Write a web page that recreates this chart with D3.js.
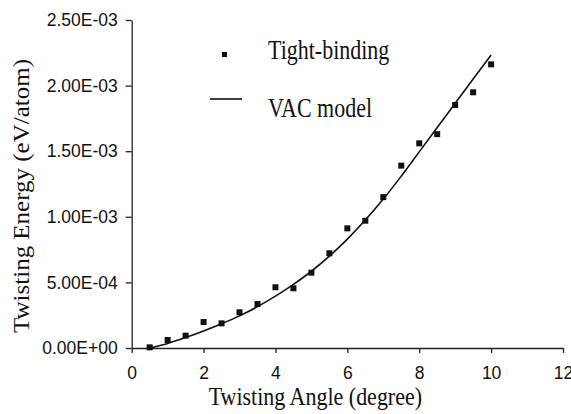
<!DOCTYPE html>
<html>
<head>
<meta charset="utf-8">
<script src="https://cdn.jsdelivr.net/npm/d3@7"></script>
<style>
  body { margin: 0; background: #fff; }
  svg { display: block; }
</style>
</head>
<body>
<div id="chart"></div>
<script>
// twisting angle (degree)
const angles = [0.5, 1, 1.5, 2, 2.5, 3, 3.5, 4, 4.5, 5, 5.5, 6, 6.5, 7, 7.5, 8, 8.5, 9, 9.5, 10];
// tight-binding energies (eV/atom)
const tightBinding = [5e-6, 6.1e-5, 9.4e-5, 1.98e-4, 1.88e-4, 2.72e-4, 3.35e-4, 4.63e-4, 4.55e-4, 5.74e-4,
    7.22e-4, 9.12e-4, 9.7e-4, 1.15e-3, 1.39e-3, 1.56e-3, 1.63e-3, 1.852e-3, 1.949e-3, 2.162e-3];
// VAC model curve
const vacModel = [0, 3.5e-5, 8e-5, 1.3e-4, 1.85e-4, 2.45e-4, 3.15e-4, 3.95e-4, 4.85e-4, 5.85e-4,
    7e-4, 8.3e-4, 9.75e-4, 1.135e-3, 1.31e-3, 1.495e-3, 1.68e-3, 1.865e-3, 2.05e-3, 2.233e-3];
const xTicks = [0, 2, 4, 6, 8, 10, 12];
const yTicks = [0, 5e-4, 1e-3, 1.5e-3, 2e-3, 2.5e-3];
const yTickLabels = ["0.00E+00", "5.00E-04", "1.00E-03", "1.50E-03", "2.00E-03", "2.50E-03"];
const legendLabels = ["Tight-binding", "VAC model"];

const width = 571, height = 414;

const svg = d3.select("#chart")
    .append("svg")
    .attr("width", width)
    .attr("height", height);

const x = d3.scaleLinear().domain([0, 12]).range([131.7, 563]);
const y = d3.scaleLinear().domain([0, 2.5e-3]).range([348, 20]);

// y axis
const yAxis = svg.append("g")
    .attr("transform", "translate(" + x(0) + ",0)")
    .call(d3.axisLeft(y)
        .tickValues(yTicks)
        .tickFormat((d, i) => yTickLabels[i])
        .tickSize(6)
        .tickPadding(8)
        .tickSizeOuter(0));

// x axis
const xAxis = svg.append("g")
    .attr("transform", "translate(0," + y(0) + ")")
    .call(d3.axisBottom(x)
        .tickValues(xTicks)
        .tickFormat(d3.format("d"))
        .tickSize(5)
        .tickSizeOuter(0));

[xAxis, yAxis].forEach(a => {
    a.select(".domain").attr("stroke", "#222").attr("stroke-width", 1.3);
    a.selectAll(".tick line").attr("stroke", "#222").attr("stroke-width", 1.3);
    a.selectAll("text")
        .attr("fill", "#111")
        .style("font-family", "'Liberation Sans', Arial, sans-serif")
        .style("font-size", "17.5px");
});
xAxis.selectAll("text").attr("y", 19);

// VAC model line
const line = d3.line()
    .x((d, i) => x(angles[i]))
    .y(d => y(d))
    .curve(d3.curveCatmullRom);

svg.append("path")
    .datum(vacModel)
    .attr("fill", "none")
    .attr("stroke", "#111")
    .attr("stroke-width", 1.6)
    .attr("d", line);

// tight-binding points
const s = 6;
svg.selectAll(".pt")
    .data(tightBinding)
    .join("rect")
    .attr("class", "pt")
    .attr("x", (d, i) => x(angles[i]) - s / 2)
    .attr("y", d => y(d) - s / 2)
    .attr("width", s)
    .attr("height", s)
    .attr("fill", "#111");

const serif = "'Liberation Serif', 'Times New Roman', serif";

// axis titles
svg.append("text")
    .attr("transform", "translate(" + ((x(0) + x(12)) / 2 - 32) + ",405) scale(1,1.15)")
    .attr("text-anchor", "middle")
    .style("font-family", serif)
    .style("font-size", "22px")
    .attr("fill", "#111")
    .text("Twisting Angle (degree)");

svg.append("text")
    .attr("transform", "translate(29,196) rotate(-90) scale(1,0.9)")
    .attr("text-anchor", "middle")
    .style("font-family", serif)
    .style("font-size", "25px")
    .attr("fill", "#111")
    .text("Twisting Energy (eV/atom)");

// legend
const legend = svg.append("g");
legend.append("rect")
    .attr("x", 222)
    .attr("y", 52)
    .attr("width", 5)
    .attr("height", 5)
    .attr("fill", "#111");
legend.append("line")
    .attr("x1", 210).attr("x2", 242)
    .attr("y1", 99).attr("y2", 99)
    .attr("stroke", "#111")
    .attr("stroke-width", 1.6);
legend.selectAll(".lg")
    .data(legendLabels)
    .join("text")
    .attr("class", "lg")
    .attr("transform", (d, i) => "translate(268," + (59 + i * 58) + ") scale(1,1.2)")
    .style("font-family", serif)
    .style("font-size", "22px")
    .attr("fill", "#111")
    .text(d => d);
</script>
</body>
</html>
